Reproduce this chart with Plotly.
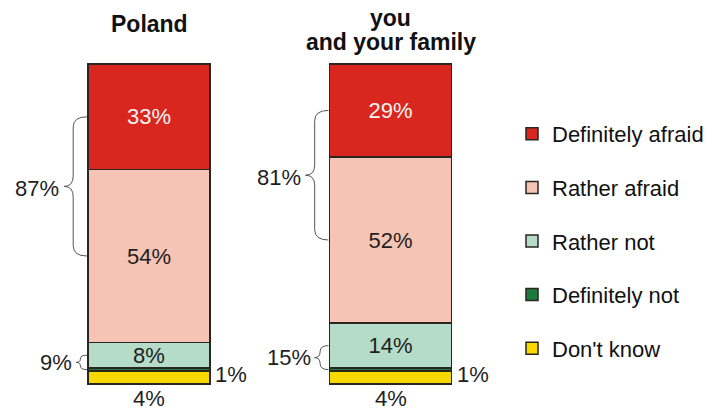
import plotly.graph_objects as go

# ---------------- data ----------------
categories = ["Poland", "you<br>and your family"]
series_names = ["Definitely afraid", "Rather afraid", "Rather not", "Definitely not", "Don't know"]
definitely_afraid = [33, 29]
rather_afraid = [54, 52]
rather_not = [8, 14]
definitely_not = [1, 1]
dont_know = [4, 4]

series_values = [definitely_afraid, rather_afraid, rather_not, definitely_not, dont_know]
series_colors = ["#d9261e", "#f5c4b4", "#b5dcc8", "#1e7a3c", "#f7d900"]
text_colors = ["#f4f4f4", "#1e1e1e", "#1e1e1e", "#1e1e1e", "#1e1e1e"]

# ---------------- geometry (pixel mapping) ----------------
FIG_W, FIG_H = 715, 411
X0_PX = 149.0        # pixel centre of first bar
X_UNIT = 241.5       # pixels per category step
BAR_W_PX = 122.0
Y0_PX = 384.0        # pixel of 0 %
Y_UNIT = 3.2         # pixels per percent

x_range = [-X0_PX / X_UNIT, (FIG_W - X0_PX) / X_UNIT]
y_range = [-(FIG_H - Y0_PX) / Y_UNIT, Y0_PX / Y_UNIT]
bar_w = BAR_W_PX / X_UNIT

FONT = "Liberation Sans, Arial, Helvetica, sans-serif"
FS = 22

xs = list(range(len(categories)))

fig = go.Figure()

# stacked from bottom to top
n = len(series_names)
for k in reversed(range(n)):
    vals = series_values[k]
    inside = k <= 2
    fig.add_trace(go.Bar(
        x=xs, y=vals, name=series_names[k], width=bar_w,
        legendgroup=series_names[k], legendrank=10 * (k + 1),
        marker=dict(color=series_colors[k], line=dict(color="#2a2520", width=1.5)),
        text=[f"{v}%" for v in vals] if inside else None,
        textposition="inside" if inside else "none",
        insidetextanchor="middle",
        constraintext="none",
        textfont=dict(family=FONT, size=FS, color=text_colors[k]),
        hovertemplate="%{y}%<extra>" + series_names[k] + "</extra>",
    ))

annotations = []
shapes = []

# titles above bars
title_centres = {1: [24.5], 2: [18.0, 42.0]}
for i, cat in enumerate(categories):
    lines = cat.split("<br>")
    for j, line in enumerate(lines):
        py = title_centres[len(lines)][j]
        annotations.append(dict(
            x=xs[i], y=1 - py / FIG_H, xref="x", yref="paper",
            text=f"<b>{line}</b>", showarrow=False,
            xanchor="center", yanchor="middle",
            font=dict(family=FONT, size=23, color="#111111"),
        ))


def brace(xr, yt, yb, depth_px):
    d = depth_px / X_UNIT
    xm = xr - d * 0.6
    xt = xr - d
    ym = (yt + yb) / 2
    r = min(depth_px * 0.45 / Y_UNIT, (yt - yb) / 4)
    return (f"M{xr},{yt} Q{xm},{yt} {xm},{yt - r} L{xm},{ym + r} "
            f"Q{xm},{ym} {xt},{ym} Q{xm},{ym} {xm},{ym - r} "
            f"L{xm},{yb + r} Q{xm},{yb} {xr},{yb}"), xt, ym


for i in xs:
    left = xs[i] - bar_w / 2 - 1.0 / X_UNIT
    # cumulative tops
    base_dk = 0
    top_dk = dont_know[i]
    top_dn = top_dk + definitely_not[i]
    top_rn = top_dn + rather_not[i]
    top_ra = top_rn + rather_afraid[i]
    top_da = top_ra + definitely_afraid[i]

    # afraid brace (mid of definitely afraid -> mid of rather afraid)
    yt = (top_ra + top_da) / 2
    yb = (top_rn + top_ra) / 2
    path, xt, ym = brace(left, yt, yb, 23)
    shapes.append(dict(type="path", path=path, xref="x", yref="y",
                       line=dict(color="#555555", width=1)))
    annotations.append(dict(x=xt - 3 / X_UNIT, y=ym, xref="x", yref="y",
                            text=f"{definitely_afraid[i] + rather_afraid[i]}%",
                            showarrow=False, xanchor="right", yanchor="middle", yshift=-2,
                            font=dict(family=FONT, size=FS, color="#1e1e1e")))

    # not-afraid brace (mid of rather not -> mid of definitely not)
    yt = (top_dn + top_rn) / 2
    yb = (top_dk + top_dn) / 2
    path, xt, ym = brace(left, yt, yb, 11 if rather_not[i] < 10 else 14)
    shapes.append(dict(type="path", path=path, xref="x", yref="y",
                       line=dict(color="#555555", width=1)))
    annotations.append(dict(x=xt - 2 / X_UNIT, y=ym, xref="x", yref="y",
                            text=f"{rather_not[i] + definitely_not[i]}%",
                            showarrow=False, xanchor="right", yanchor="middle",
                            font=dict(family=FONT, size=FS, color="#1e1e1e")))

    # small segment labels
    annotations.append(dict(x=xs[i] + bar_w / 2 + 3 / X_UNIT, y=(top_dk + top_dn) / 2,
                            xref="x", yref="y", text=f"{definitely_not[i]}%",
                            showarrow=False, xanchor="left", yanchor="middle", yshift=-5,
                            font=dict(family=FONT, size=FS, color="#1e1e1e")))
    annotations.append(dict(x=xs[i], y=base_dk, xref="x", yref="y",
                            text=f"{dont_know[i]}%",
                            showarrow=False, xanchor="center", yanchor="middle", yshift=-14,
                            font=dict(family=FONT, size=FS, color="#1e1e1e")))

fig.update_layout(
    width=FIG_W, height=FIG_H,
    margin=dict(l=0, r=0, t=0, b=0),
    barmode="stack",
    paper_bgcolor="white", plot_bgcolor="white",
    xaxis=dict(range=x_range, visible=False, fixedrange=True),
    yaxis=dict(range=y_range, visible=False, fixedrange=True),
    showlegend=True,
    legend=dict(
        x=512 / FIG_W, y=1 - 113 / FIG_H, xanchor="left", yanchor="top",
        traceorder="grouped", tracegroupgap=22,
        font=dict(family=FONT, size=FS, color="#111111"),
        bgcolor="rgba(0,0,0,0)", borderwidth=0,
    ),
    annotations=annotations,
    shapes=shapes,
    font=dict(family=FONT),
)

fig.write_html("out.html", config={"displayModeBar": False},
               post_script="document.body.style.margin='0';document.body.style.padding='0';")
